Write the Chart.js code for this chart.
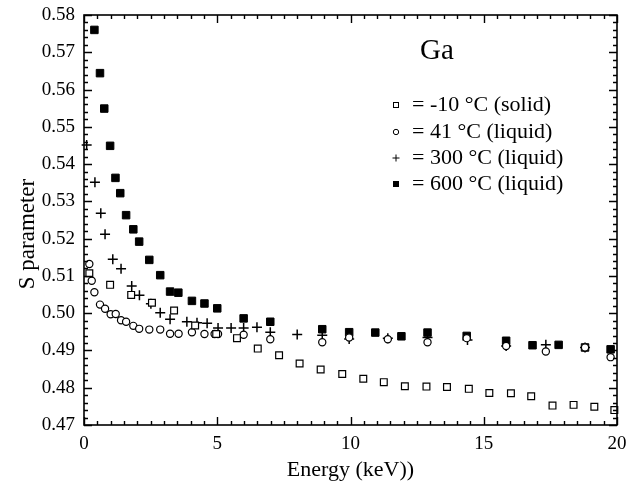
<!DOCTYPE html>
<html><head><meta charset="utf-8">
<script src="https://cdn.jsdelivr.net/npm/chart.js@4.4.1/dist/chart.umd.min.js"></script>
<style>html,body{margin:0;padding:0;background:#fff;}</style>
</head><body>
<canvas id="c" width="626" height="493" style="display:block;width:626px;height:493px"></canvas>
<script>
// ---- data ----
const energy_m10 = [0.20,0.98,1.77,2.55,3.38,4.17,4.96,5.74,6.52,7.32,8.09,8.88,9.69,10.48,11.25,12.04,12.85,13.62,14.44,15.21,16.02,16.78,17.58,18.37,19.15,19.90];
const s_m10      = [0.5107,0.5076,0.5049,0.5028,0.5007,0.4967,0.4944,0.4933,0.4905,0.4887,0.4865,0.4849,0.4837,0.4824,0.4815,0.4804,0.4803,0.4802,0.4797,0.4786,0.4785,0.4777,0.4752,0.4754,0.4749,0.4740];

const energy_41 = [0.20,0.29,0.39,0.60,0.79,1.00,1.19,1.39,1.58,1.85,2.07,2.45,2.86,3.23,3.55,4.05,4.52,4.90,5.03,5.99,6.99,8.94,9.95,11.40,12.89,14.36,15.84,17.33,18.80,19.76];
const s_41      = [0.5132,0.5087,0.5056,0.5023,0.5012,0.4997,0.4998,0.4981,0.4977,0.4966,0.4958,0.4956,0.4956,0.4945,0.4945,0.4949,0.4944,0.4944,0.4944,0.4942,0.4930,0.4922,0.4935,0.4930,0.4922,0.4933,0.4912,0.4897,0.4908,0.4882];

const energy_300 = [0.10,0.41,0.63,0.79,1.08,1.39,1.79,2.08,2.51,2.86,3.23,3.86,4.24,4.62,5.03,5.52,5.99,6.49,6.99,8.00,8.94,9.95,11.40,12.89,14.39,15.84,17.33,18.80];
const s_300      = [0.5451,0.5351,0.5268,0.5212,0.5145,0.5119,0.5073,0.5048,0.5025,0.5001,0.4984,0.4977,0.4974,0.4973,0.4960,0.4960,0.4960,0.4962,0.4949,0.4943,0.4941,0.4931,0.4933,0.4935,0.4928,0.4912,0.4915,0.4908];

const energy_600 = [0.39,0.60,0.76,0.98,1.18,1.36,1.58,1.85,2.07,2.45,2.86,3.23,3.54,4.05,4.52,5.00,5.99,6.99,8.94,9.95,10.93,11.91,12.89,14.36,15.84,16.83,17.81,18.80,19.76];
const s_600      = [0.5760,0.5644,0.5549,0.5449,0.5363,0.5322,0.5263,0.5225,0.5192,0.5143,0.5102,0.5058,0.5055,0.5033,0.5026,0.5013,0.4986,0.4977,0.4957,0.4949,0.4948,0.4938,0.4948,0.4939,0.4926,0.4914,0.4915,0.4908,0.4903];

const seriesLabels = ['= -10 °C (solid)', '= 41 °C (liquid)', '= 300 °C (liquid)', '= 600 °C (liquid)'];
const xTickLabels = ['0','5','10','15','20'];
const yTickLabels = ['0.47','0.48','0.49','0.50','0.51','0.52','0.53','0.54','0.55','0.56','0.57','0.58'];
const chartTitle = 'Ga';
const xTitle = 'Energy (keV))';
const yTitle = 'S parameter';

// ---- build ----
const pts = (xs, ys) => xs.map((x, i) => ({x: x, y: ys[i]}));
const SERIF = '"Liberation Serif", "Times New Roman", serif';

const frameAndTicks = {
  id: 'frameAndTicks',
  afterDraw(chart) {
    const ctx = chart.ctx, a = chart.chartArea;
    const xs = chart.scales.x, ys = chart.scales.y;
    ctx.save();
    ctx.strokeStyle = '#000';
    ctx.lineWidth = 1.6;
    ctx.strokeRect(a.left, a.top, a.right - a.left, a.bottom - a.top);
    ctx.lineWidth = 1.4;
    ctx.beginPath();
    for (let i = 0; i <= 40; i++) {
      const px = Math.round(xs.getPixelForValue(i * 0.5)) + 0.5;
      const len = (i % 10 === 0) ? 8 : 4;
      ctx.moveTo(px, a.bottom); ctx.lineTo(px, a.bottom - len);
      ctx.moveTo(px, a.top); ctx.lineTo(px, a.top + len);
    }
    for (let i = 0; i <= 55; i++) {
      const py = Math.round(ys.getPixelForValue(0.47 + i * 0.002)) + 0.5;
      const len = (i % 5 === 0) ? 8 : 4;
      ctx.moveTo(a.left, py); ctx.lineTo(a.left + len, py);
      ctx.moveTo(a.right, py); ctx.lineTo(a.right - len, py);
    }
    ctx.stroke();

    // axis titles
    ctx.fillStyle = '#000';
    ctx.textAlign = 'center';
    ctx.textBaseline = 'middle';
    ctx.font = '22px ' + SERIF;
    ctx.fillText(xTitle, (a.left + a.right) / 2, 470);
    ctx.save();
    ctx.translate(28, 234);
    ctx.rotate(-Math.PI / 2);
    ctx.font = '23px ' + SERIF;
    ctx.fillText(yTitle, 0, 0);
    ctx.restore();

    // "Ga" label
    ctx.font = '29px ' + SERIF;
    ctx.textAlign = 'left';
    ctx.fillText(chartTitle, 420, 51);

    // legend
    const rows = [105, 132, 158, 184];
    const mx = 396;
    ctx.font = '22px ' + SERIF;
    rows.forEach((yy, i) => {
      ctx.fillText(seriesLabels[i], 412, yy);
    });
    ctx.lineWidth = 1;
    // open square
    ctx.strokeRect(mx - 2.5, rows[0] - 2.5, 5, 5);
    // open circle
    ctx.beginPath(); ctx.arc(mx, rows[1], 2.7, 0, Math.PI * 2); ctx.stroke();
    // plus
    ctx.beginPath();
    ctx.moveTo(mx - 3.5, rows[2]); ctx.lineTo(mx + 3.5, rows[2]);
    ctx.moveTo(mx, rows[2] - 3.5); ctx.lineTo(mx, rows[2] + 3.5);
    ctx.stroke();
    // filled square
    ctx.fillRect(mx - 3, rows[3] - 3, 6, 6);
    ctx.restore();
  }
};

new Chart(document.getElementById('c'), {
  type: 'scatter',
  data: {
    datasets: [
      { label: seriesLabels[0], data: pts(energy_m10, s_m10), pointStyle: 'rect', pointRadius: 4.8, pointBackgroundColor: '#fff', pointBorderColor: '#000', pointBorderWidth: 1.2, clip: false },
      { label: seriesLabels[1], data: pts(energy_41, s_41), pointStyle: 'circle', pointRadius: 3.6, pointBackgroundColor: '#fff', pointBorderColor: '#000', pointBorderWidth: 1.2, clip: false },
      { label: seriesLabels[2], data: pts(energy_300, s_300), pointStyle: 'cross', pointRadius: 5, pointBackgroundColor: '#000', pointBorderColor: '#000', pointBorderWidth: 1.5, clip: false },
      { label: seriesLabels[3], data: pts(energy_600, s_600), pointStyle: 'rect', pointRadius: 5.3, pointBackgroundColor: '#000', pointBorderColor: '#000', pointBorderWidth: 1, clip: false }
    ]
  },
  options: {
    responsive: false,
    animation: false,
    devicePixelRatio: 1,
    layout: { autoPadding: false, padding: { top: 15, right: 9, left: 0, bottom: 0 } },
    plugins: { legend: { display: false }, tooltip: { enabled: false }, title: { display: false } },
    scales: {
      x: {
        type: 'linear', min: 0, max: 20,
        grid: { display: false, drawTicks: false },
        border: { display: false },
        ticks: { stepSize: 5, padding: 8, color: '#000', font: { family: SERIF, size: 19 }, maxRotation: 0,
                 callback: (v) => { const i = xTickLabels.indexOf(String(v)); return i >= 0 ? xTickLabels[i] : ''; } },
        afterFit: (s) => { s.height = 68; s.paddingLeft = 0; s.paddingRight = 0; s.paddingTop = 0; s.paddingBottom = 0; }
      },
      y: {
        type: 'linear', min: 0.47, max: 0.58,
        grid: { display: false, drawTicks: false },
        border: { display: false },
        ticks: { stepSize: 0.01, padding: 9, color: '#000', font: { family: SERIF, size: 19 },
                 callback: (v) => { const i = Math.round((v - 0.47) * 100); return yTickLabels[i] !== undefined ? yTickLabels[i] : ''; } },
        afterFit: (s) => { s.width = 84; s.paddingLeft = 0; s.paddingRight = 0; s.paddingTop = 0; s.paddingBottom = 0; }
      }
    }
  },
  plugins: [frameAndTicks]
});
</script>
</body></html>
